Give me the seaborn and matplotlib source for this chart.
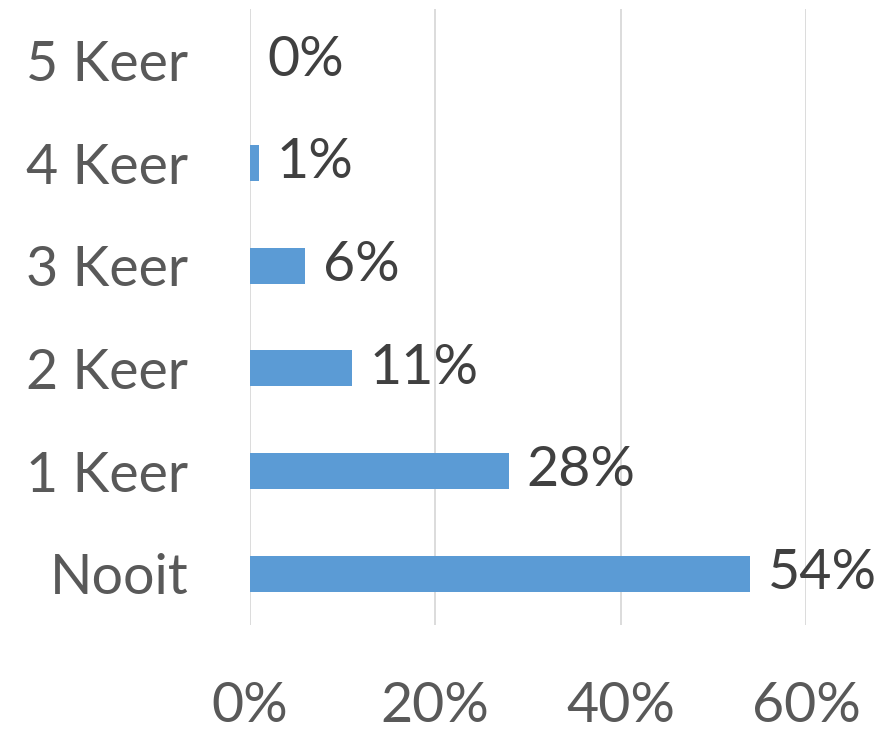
import matplotlib
matplotlib.use('Agg')
import matplotlib.pyplot as plt
import seaborn as sns
import pandas as pd

# data
categories = ['5 Keer', '4 Keer', '3 Keer', '2 Keer', '1 Keer', 'Nooit']
values = [0, 1, 6, 11, 28, 54]
xticks = [0, 20, 40, 60]
xtick_labels = ['0%', '20%', '40%', '60%']

df = pd.DataFrame({'cat': categories, 'pct': values})

sns.set_style('white')
plt.rcParams['font.family'] = ['Lato', 'DejaVu Sans']

fig = plt.figure(figsize=(8.77, 7.31), dpi=100)
W, H = 877, 731
ax = fig.add_axes([249.5 / W, 1 - 625 / H, (806 - 249.5) / W, (625 - 9) / H])

sns.barplot(data=df, x='pct', y='cat', orient='h', color='#5B9BD5',
            saturation=1, width=0.35, linewidth=0, ax=ax)

ax.set_xlim(0, 60)
ax.set_ylim(5.5, -0.5)
ax.set_xticks(xticks)
ax.set_xticklabels(xtick_labels)
ax.xaxis.grid(True, color='#D9D9D9', linewidth=1.3)
ax.set_axisbelow(True)
for s in ax.spines.values():
    s.set_visible(False)
ax.tick_params(axis='both', length=0, labelsize=40, labelcolor='#595959')
ax.tick_params(axis='x', pad=40)
ax.tick_params(axis='y', pad=44)
ax.set_xlabel('')
ax.set_ylabel('')

# data labels
for i, v in enumerate(values):
    ax.text(v + 1.9, i, f'{v}%', va='center', ha='left', fontsize=40,
            color='#404040', clip_on=False)

fig.savefig('out.png', dpi=100)
